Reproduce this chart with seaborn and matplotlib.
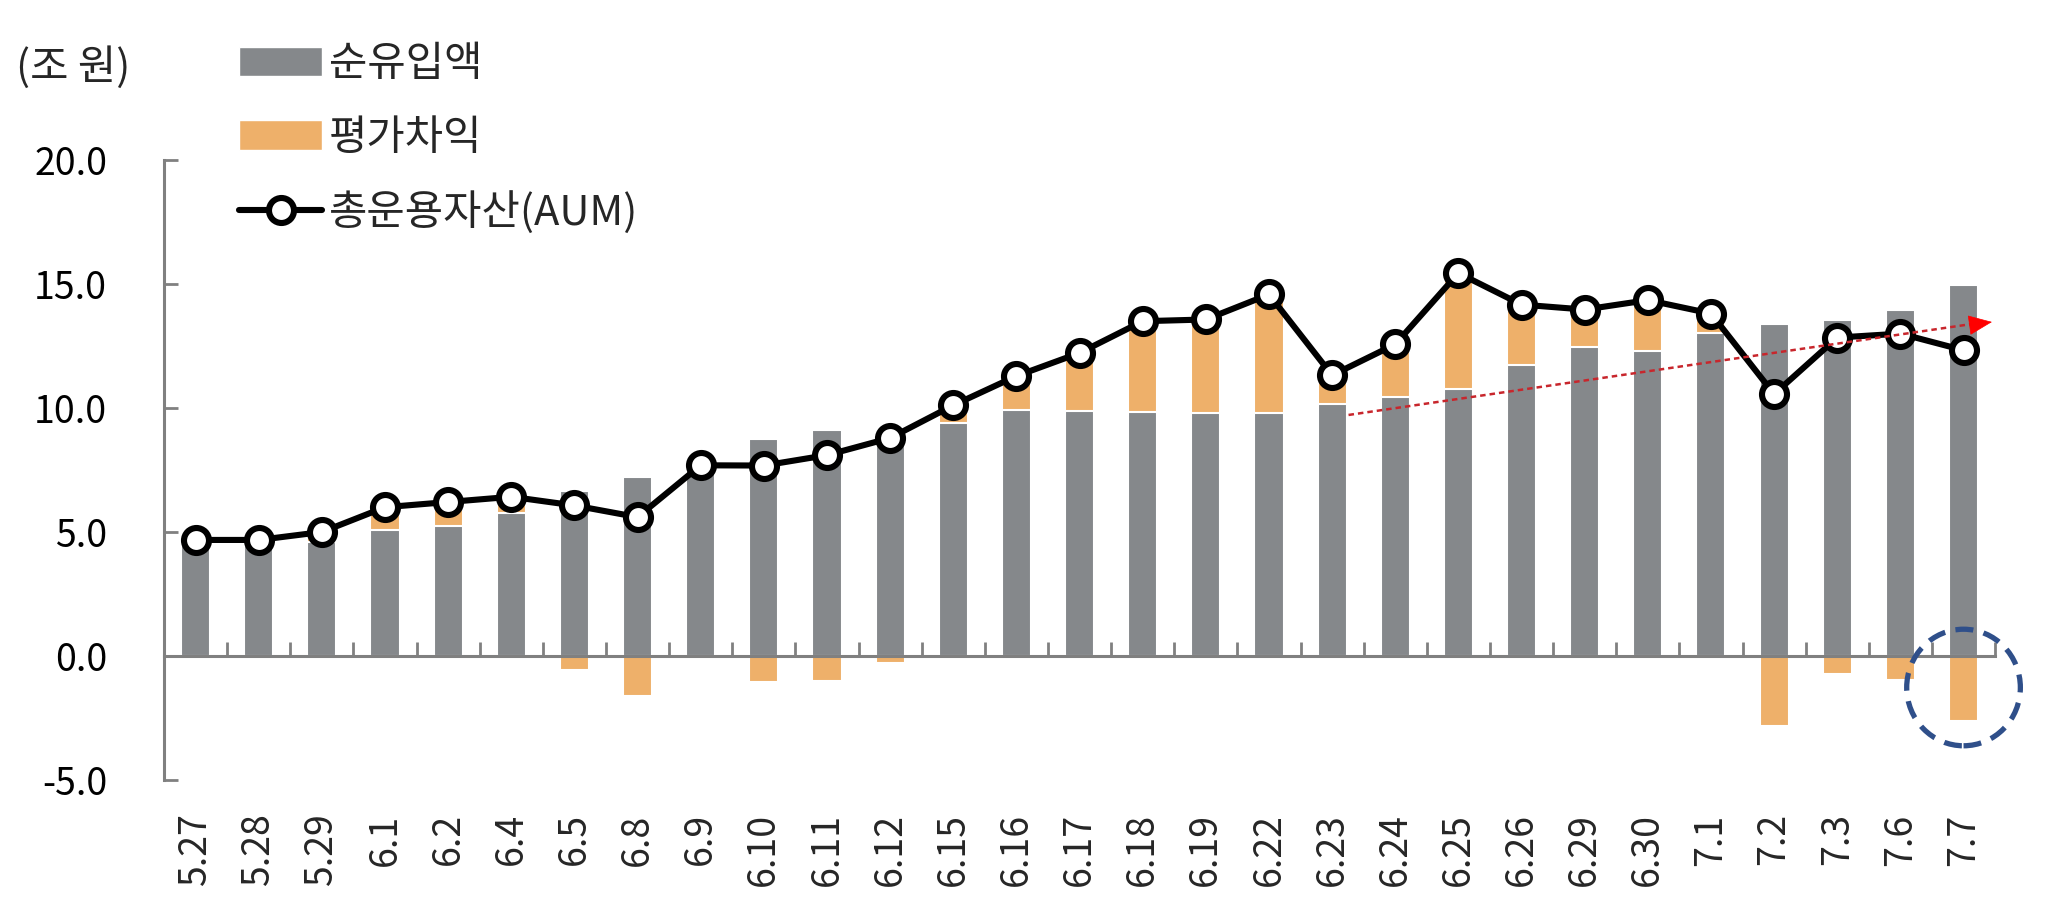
import numpy as np
import pandas as pd
import matplotlib
matplotlib.use("Agg")
import matplotlib.pyplot as plt
import seaborn as sns
from matplotlib.patches import Ellipse, Patch
from matplotlib.lines import Line2D

dates = ['5.27', '5.28', '5.29', '6.1', '6.2', '6.4', '6.5', '6.8', '6.9', '6.10',
         '6.11', '6.12', '6.15', '6.16', '6.17', '6.18', '6.19', '6.22', '6.23', '6.24',
         '6.25', '6.26', '6.29', '6.30', '7.1', '7.2', '7.3', '7.6', '7.7']
# 순유입액 (조 원)
net_inflow = [4.60, 4.60, 4.58, 5.10, 5.25, 5.76, 6.64, 7.22, 7.60, 8.75,
              9.11, 9.07, 9.40, 9.92, 9.87, 9.85, 9.78, 9.78, 10.17, 10.46,
              10.78, 11.75, 12.48, 12.30, 13.02, 13.38, 13.55, 13.95, 14.95]
# 평가차익 (조 원)
valuation = [0.08, 0.08, 0.42, 0.90, 0.96, 0.66, -0.58, -1.63, 0.09, -1.06,
             -0.99, -0.28, 0.71, 1.37, 2.35, 3.65, 3.79, 4.80, 1.15, 2.11,
             4.66, 2.42, 1.49, 2.05, 0.79, -2.82, -0.71, -0.95, -2.62]
# 총운용자산 AUM (조 원)
aum = [4.68, 4.68, 5.00, 6.00, 6.21, 6.42, 6.07, 5.60, 7.69, 7.68,
       8.10, 8.79, 10.11, 11.29, 12.22, 13.50, 13.57, 14.58, 11.32, 12.57,
       15.44, 14.17, 13.97, 14.35, 13.81, 10.56, 12.84, 13.00, 12.33]

legend_labels = ['순유입액', '평가차익', '총운용자산(AUM)']
yticks = [-5, 0, 5, 10, 15, 20]

GRAY = '#85888b'
ORANGE = '#eeb06a'
AXIS = '#808080'
FS = 27
LEG_FS = 30

sns.set_theme(style="white")
plt.rcParams['font.family'] = ['Noto Sans CJK KR', 'DejaVu Sans']

df = pd.DataFrame({'date': dates, 'net': net_inflow, 'val': valuation, 'aum': aum})
# orange bar sits on top of the gray one when positive, hangs below zero when negative
df['val_top'] = np.where(df['val'] > 0, df['net'] + df['val'], df['val'])
n = len(df)

fig = plt.figure(figsize=(20.45, 9.17), dpi=100)
ax = fig.add_axes([0.0802, 0.1494, 0.8954, 0.6761])

sns.barplot(data=df, x='date', y='val_top', color=ORANGE, saturation=1, width=0.46,
            edgecolor='white', linewidth=1.5, ax=ax)
sns.barplot(data=df, x='date', y='net', color=GRAY, saturation=1, width=0.46,
            edgecolor='white', linewidth=1.5, ax=ax)
sns.lineplot(x=np.arange(n), y=df['aum'], color='black', linewidth=4.4, marker='o',
             markersize=18, markerfacecolor='white', markeredgecolor='black',
             markeredgewidth=4.4, ax=ax, zorder=5)

ax.set_xlim(-0.5, n - 0.5)
ax.set_ylim(-5, 20)
ax.set_xlabel('')
ax.set_ylabel('')
sns.despine(ax=ax)
for s in ['left', 'bottom']:
    ax.spines[s].set_color(AXIS)
    ax.spines[s].set_linewidth(2.2)
ax.spines['bottom'].set_position(('data', 0))
ax.spines['bottom'].set_zorder(4)

ax.set_xticks(np.arange(-0.5, n, 1))
ax.tick_params(axis='x', bottom=True, direction='in', length=10, width=2, color=AXIS,
               labelbottom=False)
ax.set_yticks(yticks)
ax.set_yticklabels([f'{v:.1f}' for v in yticks])
ax.tick_params(axis='y', left=True, direction='in', length=10, width=2, color=AXIS,
               pad=41, labelsize=FS, labelcolor='black')

sec = ax.secondary_xaxis('bottom')
sec.set_xticks(np.arange(n))
sec.set_xticklabels(dates, rotation=90)
sec.tick_params(bottom=True, length=0, pad=24, labelsize=FS)
sec.spines['bottom'].set_visible(False)

# trend arrow
ax.plot([18.26, 28.3], [9.72, 13.45], color='#c8262c', lw=1.8, ls=(0, (2.2, 1.6)),
        zorder=6)
ax.annotate('', xy=(28.45, 13.47), xytext=(28.2, 13.38),
            arrowprops=dict(arrowstyle='-|>,head_length=1.3,head_width=0.55',
                            color='#ff0000', lw=0.5, shrinkA=0, shrinkB=0),
            zorder=7, annotation_clip=False)

# highlight circle around the last bar
ax.add_patch(Ellipse((28, -1.27), width=1.8, height=4.7, fill=False,
                     edgecolor='#2f4f8a', lw=3.8, ls=(0, (3.4, 2.0)),
                     clip_on=False, zorder=6))

handles = [Patch(facecolor=GRAY), Patch(facecolor=ORANGE),
           Line2D([], [], color='black', lw=4.4, marker='o', ms=18,
                  mfc='white', mec='black', mew=4.4)]
fig.legend(handles, legend_labels, loc='upper left', bbox_to_anchor=(0.1169, 0.952),
           frameon=False, fontsize=LEG_FS, handlelength=2.0, handleheight=0.7,
           labelspacing=0.78, handletextpad=0.15, borderpad=0, borderaxespad=0)

fig.text(0.0357, 0.926, '(조 원)', fontsize=LEG_FS, ha='center', va='center')

fig.savefig('out.png', dpi=100)
